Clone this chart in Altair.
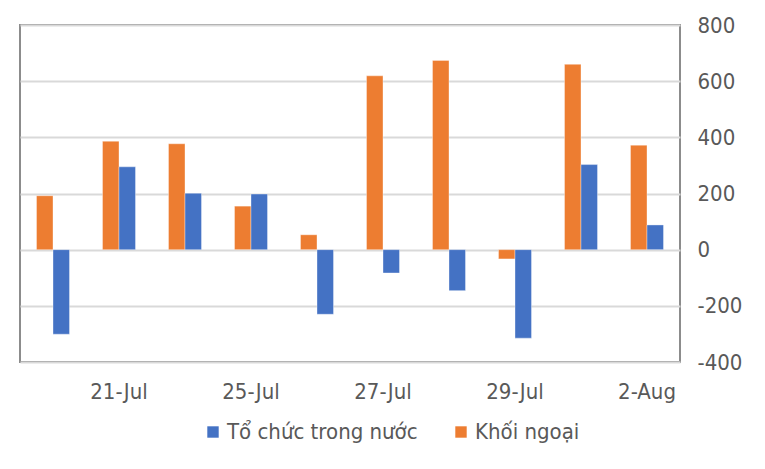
import altair as alt
import pandas as pd

dates = ["20-Jul", "21-Jul", "22-Jul", "25-Jul", "26-Jul",
         "27-Jul", "28-Jul", "29-Jul", "1-Aug", "2-Aug"]
khoi_ngoai = [192, 386, 377, 155, 53, 619, 674, -33, 660, 372]
to_chuc = [-301, 295, 201, 198, -230, -83, -146, -315, 303, 88]
shown_labels = ["21-Jul", "25-Jul", "27-Jul", "29-Jul", "2-Aug"]
y_ticks = [-400, -200, 0, 200, 400, 600, 800]

S_DOM = "Tổ chức trong nước"
S_FOR = "Khối ngoại"

rows = []
for d, kn, tc in zip(dates, khoi_ngoai, to_chuc):
    rows.append({"date": d, "series": S_FOR, "value": kn, "order": 0})
    rows.append({"date": d, "series": S_DOM, "value": tc, "order": 1})
df = pd.DataFrame(rows)

FONT = "DejaVu Sans Condensed"
FS = 22
TXT = "#595959"

chart = alt.Chart(df).mark_bar(stroke="white", strokeWidth=0.6, strokeOpacity=0.6).encode(
    x=alt.X("date:N", sort=dates, title=None,
            scale=alt.Scale(paddingInner=0.5, paddingOuter=0.25),
            axis=alt.Axis(values=shown_labels, labelAngle=0, ticks=False, domain=False,
                          labelPadding=19, labelFontSize=FS, labelColor=TXT, labelFont=FONT)),
    xOffset=alt.XOffset("series:N", sort=[S_FOR, S_DOM]),
    y=alt.Y("value:Q", title=None,
            scale=alt.Scale(domain=[-400, 800], nice=False),
            axis=alt.Axis(orient="right", values=y_ticks, ticks=False, domain=False,
                          labelAlign="left", labelPadding=17, labelFontSize=FS,
                          labelColor=TXT, labelFont=FONT,
                          labelExpr="'' + datum.value",
                          gridColor="#d9d9d9", gridWidth=2)),
    color=alt.Color("series:N",
                    scale=alt.Scale(domain=[S_DOM, S_FOR], range=["#4472C4", "#ED7D31"]),
                    legend=alt.Legend(title=None, orient="none", direction="horizontal",
                                      legendX=182, legendY=396, symbolType="square",
                                      symbolSize=130, symbolStrokeWidth=0,
                                      labelFontSize=FS, labelColor=TXT, labelFont=FONT,
                                      labelLimit=400,
                                      columnPadding=32, symbolOffset=0, labelOffset=3)),
).properties(
    width=660, height=337,
    autosize=alt.AutoSizeParams(type="none"),
    padding={"left": 12, "top": 17, "right": 70, "bottom": 90},
).configure_view(
    stroke="#8c8c8c", strokeWidth=2
)

chart.save("out.html", embed_options={"renderer": "svg", "actions": False})
